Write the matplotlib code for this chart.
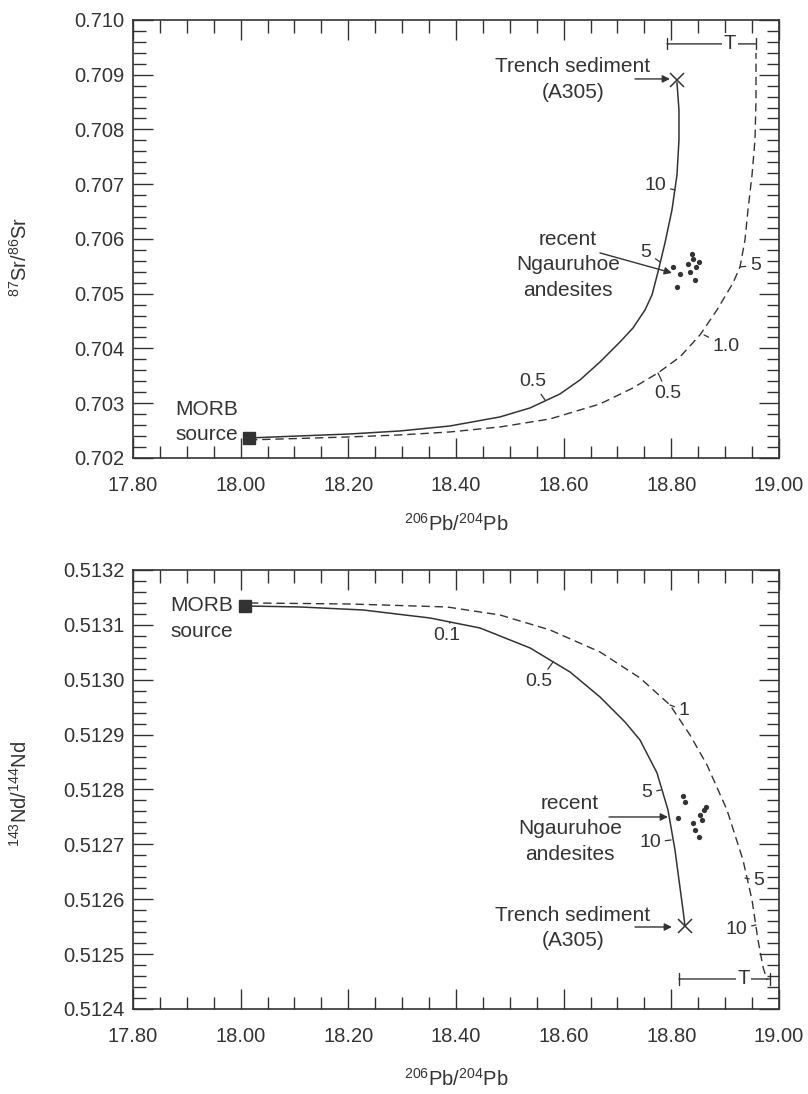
import matplotlib
matplotlib.use("Agg")
import matplotlib.pyplot as plt
from matplotlib.ticker import MultipleLocator, FormatStrFormatter

plt.rcParams['font.family'] = ['Liberation Sans', 'DejaVu Sans']
plt.rcParams['mathtext.fontset'] = 'custom'
plt.rcParams['mathtext.rm'] = 'Liberation Sans'
plt.rcParams['mathtext.it'] = 'Liberation Sans'

INK = '#333333'
FS = 14.5

# ---- top panel: 87Sr/86Sr vs 206Pb/204Pb ----
sr_morb = (18.0155, 0.702365)
sr_trench = (18.8105, 0.708904)
sr_solid_x = [18.0155, 18.1102, 18.2031, 18.2960, 18.3889, 18.4817, 18.5375, 18.5932,
              18.6304, 18.6675, 18.7047, 18.7288, 18.7511, 18.7641, 18.7752, 18.7882,
              18.8012, 18.8105, 18.8142, 18.8142, 18.8105]
sr_solid_y = [0.702365, 0.702402, 0.702438, 0.702493, 0.702584, 0.702749, 0.702913, 0.703169,
              0.703425, 0.703753, 0.704119, 0.704374, 0.704703, 0.704977, 0.705397, 0.705927,
              0.706530, 0.707169, 0.707808, 0.708356, 0.708850]
sr_dash_x = [18.0155, 18.2031, 18.2960, 18.3889, 18.4817, 18.5746, 18.6675, 18.7288,
             18.7752, 18.8161, 18.8533, 18.8848, 18.9146, 18.9276, 18.9368, 18.9424,
             18.9499, 18.9554, 18.9573, 18.9573]
sr_dash_y = [0.702329, 0.702384, 0.702420, 0.702475, 0.702566, 0.702712, 0.702986, 0.703279,
             0.703553, 0.703845, 0.704247, 0.704703, 0.705196, 0.705489, 0.705982, 0.706530,
             0.707169, 0.707808, 0.708539, 0.709397]
sr_rocks_x = [18.8037, 18.8167, 18.8105, 18.8304, 18.8347, 18.8384, 18.8403, 18.8458, 18.8520, 18.8440]
sr_rocks_y = [0.705494, 0.705355, 0.705123, 0.705543, 0.705397, 0.705732, 0.705635, 0.705483, 0.705580, 0.705246]
# curve labels: text, point on curve, text offset (points)
sr_marks = [('0.5', (18.5653, 0.703059), (-9, 13)),
            ('5', (18.7789, 0.705580), (-10, 7)),
            ('10', (18.8068, 0.706895), (-14, 3)),
            ('5', (18.9276, 0.705489), (11, 1)),
            ('1.0', (18.8607, 0.704247), (16, -8)),
            ('0.5', (18.7752, 0.703553), (7, -15))]
sr_T = (18.792, 18.957, 0.709562)

# ---- bottom panel: 143Nd/144Nd vs 206Pb/204Pb ----
nd_morb = (18.0081, 0.5131344)
nd_trench = (18.8254, 0.5125513)
nd_solid_x = [18.0081, 18.1102, 18.2273, 18.3517, 18.4446, 18.5375, 18.6118, 18.6675,
              18.7139, 18.7418, 18.7734, 18.7938, 18.8068, 18.8142, 18.8217, 18.8254]
nd_solid_y = [0.5131344, 0.5131326, 0.5131271, 0.5131125, 0.5130943, 0.5130579, 0.5130141, 0.5129686,
              0.5129230, 0.5128902, 0.5128301, 0.5127627, 0.5126897, 0.5126351, 0.5125804, 0.5125513]
nd_dash_x = [18.0173, 18.2031, 18.3833, 18.4817, 18.5746, 18.6675, 18.7418, 18.7975,
             18.8347, 18.8663, 18.9034, 18.9331, 18.9499, 18.9610, 18.9703, 18.9777]
nd_dash_y = [0.5131399, 0.5131380, 0.5131326, 0.5131180, 0.5130907, 0.5130506, 0.5130032, 0.5129540,
             0.5128993, 0.5128446, 0.5127627, 0.5126715, 0.5125986, 0.5125257, 0.5124765, 0.5124528]
nd_rocks_x = [18.8211, 18.8245, 18.8130, 18.8397, 18.8449, 18.8505, 18.8533, 18.8598, 18.8564, 18.8644]
nd_rocks_y = [0.512788, 0.512778, 0.512748, 0.512739, 0.512727, 0.512714, 0.512754, 0.512763, 0.512745, 0.512768]
nd_marks = [('0.1', (18.3889, 0.5131052), (-2, -10)),
            ('0.5', (18.5800, 0.5130320), (-10, -14)),
            ('5', (18.7808, 0.5127991), (-10, -2)),
            ('10', (18.7994, 0.5127080), (-15, -2)),
            ('1', (18.7975, 0.5129540), (10, -4)),
            ('5', (18.9368, 0.5126387), (10, -2)),
            ('10', (18.9573, 0.5125531), (-14, -3))]
nd_T = (18.814, 18.983, 0.5124547)


fig = plt.figure(figsize=(8.08, 10.94), dpi=100)
ax1 = fig.add_axes([0.1646, 0.5814, 0.7995, 0.4004])
ax2 = fig.add_axes([0.1646, 0.0777, 0.7995, 0.4013])


def style(ax, ymaj, ymin, yfmt):
    ax.set_xlim(17.80, 19.00)
    ax.xaxis.set_major_locator(MultipleLocator(0.2))
    ax.xaxis.set_minor_locator(MultipleLocator(0.05))
    ax.xaxis.set_major_formatter(FormatStrFormatter('%.2f'))
    ax.yaxis.set_major_locator(MultipleLocator(ymaj))
    ax.yaxis.set_minor_locator(MultipleLocator(ymin))
    ax.yaxis.set_major_formatter(FormatStrFormatter(yfmt))
    ax.tick_params(which='both', direction='in', top=True, right=True, color=INK, width=1.0)
    ax.tick_params(which='major', length=14.5, labelsize=FS, labelcolor=INK)
    ax.tick_params(which='minor', length=9)
    ax.tick_params(axis='x', pad=13)
    ax.tick_params(axis='y', pad=6)
    for s in ax.spines.values():
        s.set_color(INK)
        s.set_linewidth(1.2)
    ax.set_xlabel('$^{206}$Pb/$^{204}$Pb', fontsize=FS, color=INK)


def arrow(ax, start, end):
    ax.annotate('', xy=end, xytext=start,
                arrowprops=dict(arrowstyle='-|>', color=INK, lw=1.0, mutation_scale=11,
                                shrinkA=0, shrinkB=0))


def label(ax, x, y, s):
    ax.text(x, y, s, ha='center', va='center', fontsize=FS + 0.5, color=INK, linespacing=1.45)


def draw(ax, morb, trench, sx, sy, dx, dy, rx, ry, marks, T):
    ax.plot(sx, sy, color=INK, lw=1.1)
    ax.plot(dx, dy, color=INK, lw=1.0, linestyle=(0, (6, 3.5)))
    ax.plot(rx, ry, 'o', color=INK, ms=3.8, mec='none')
    ax.plot(*morb, 's', color=INK, ms=8.5, zorder=5)
    ax.plot(*trench, 'x', color=INK, ms=9.5, mew=1.1, zorder=5)
    for lab, xy, off in marks:
        ax.annotate(lab, xy=xy, xytext=off, textcoords='offset points',
                    ha='center', va='center', fontsize=FS - 0.5, color=INK,
                    arrowprops=dict(arrowstyle='-', color=INK, lw=0.9, shrinkA=1, shrinkB=0))
    x0, x1, yT = T
    ax.annotate('', xy=(x1, yT), xytext=(x0, yT),
                arrowprops=dict(arrowstyle='|-|', color=INK, lw=1.0, mutation_scale=4,
                                shrinkA=0, shrinkB=0))
    ax.text(x0 + 0.71 * (x1 - x0), yT, 'T', ha='center', va='center', fontsize=FS, color=INK,
            bbox=dict(facecolor='white', edgecolor='none', pad=1))


style(ax1, 0.001, 0.0002, '%.3f')
ax1.set_ylim(0.702, 0.710)
ax1.set_ylabel('$^{87}$Sr/$^{86}$Sr', fontsize=FS, color=INK)
ax1.yaxis.set_label_coords(-0.158, 0.46)
ax1.xaxis.set_label_coords(0.5, -0.125)
draw(ax1, sr_morb, sr_trench, sr_solid_x, sr_solid_y, sr_dash_x, sr_dash_y,
     sr_rocks_x, sr_rocks_y, sr_marks, sr_T)
ax1.text(17.878, 0.702658, 'MORB\nsource', fontsize=FS + 0.5, color=INK, ha='left', va='center',
         linespacing=1.45)
label(ax1, 18.6174, 0.708913, 'Trench sediment\n(A305)')
arrow(ax1, (18.7325, 0.708922), (18.7975, 0.708922))
label(ax1, 18.6081, 0.705525, 'recent\nNgauruhoe\nandesites')
arrow(ax1, (18.6675, 0.705744), (18.8012, 0.705379))

style(ax2, 0.0001, 0.00002, '%.4f')
ax2.set_ylim(0.5124, 0.5132)
ax2.set_ylabel('$^{143}$Nd/$^{144}$Nd', fontsize=FS, color=INK)
ax2.yaxis.set_label_coords(-0.158, 0.49)
ax2.xaxis.set_label_coords(0.5, -0.135)
draw(ax2, nd_morb, nd_trench, nd_solid_x, nd_solid_y, nd_dash_x, nd_dash_y,
     nd_rocks_x, nd_rocks_y, nd_marks, nd_T)
ax2.text(17.8687, 0.5131116, 'MORB\nsource', fontsize=FS + 0.5, color=INK, ha='left', va='center',
         linespacing=1.45)
label(ax2, 18.6174, 0.5125476, 'Trench sediment\n(A305)')
arrow(ax2, (18.7325, 0.5125494), (18.8012, 0.5125494))
label(ax2, 18.6118, 0.5127280, 'recent\nNgauruhoe\nandesites')
arrow(ax2, (18.6842, 0.5127499), (18.7938, 0.5127499))

fig.savefig('out.png', dpi=100, facecolor='white')
